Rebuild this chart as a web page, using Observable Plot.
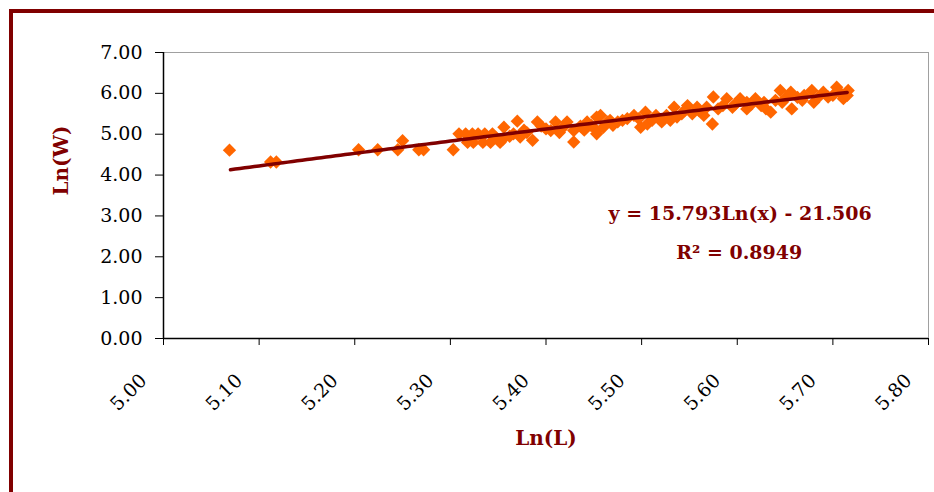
<!DOCTYPE html>
<html><head><meta charset="utf-8">
<script src="https://cdn.jsdelivr.net/npm/d3@7"></script>
<script src="https://cdn.jsdelivr.net/npm/@observablehq/plot@0.6"></script>
<style>
html,body{margin:0;padding:0;background:#fff;width:934px;height:492px;overflow:hidden}
#wrap{position:relative;width:934px;height:492px}
#chart{position:absolute;left:0;top:0}
#frame{position:absolute;left:9px;top:9px;width:1000px;height:600px;border:4px solid #800000;pointer-events:none}
</style></head>
<body><div id="wrap"><div id="chart"></div><div id="frame"></div></div>
<script>
const lnL = [5.069,5.112,5.118,5.204,5.224,5.245,5.250,5.267,5.272,5.303,
  5.309,5.316,5.323,5.329,5.336,5.344,5.324,5.334,5.342,5.352,
  5.356,5.355,5.370,5.366,5.373,5.386,5.391,5.380,5.400,5.410,
  5.414,5.422,5.429,5.429,5.436,5.443,5.453,5.457,5.453,5.453,
  5.460,5.464,5.467,5.475,5.485,5.492,5.499,5.504,5.506,5.511,
  5.521,5.526,5.534,5.537,5.542,5.548,5.553,5.558,5.565,5.574,
  5.575,5.580,5.589,5.595,5.603,5.610,5.610,5.619,5.625,5.630,
  5.635,5.640,5.645,5.647,5.656,5.657,5.663,5.670,5.678,5.680,
  5.690,5.695,5.704,5.711,5.715,5.716,
  5.318,5.347,5.362,5.377,5.395,5.405,5.418,5.440,5.447,5.470,
  5.480,5.497,5.515,5.530,5.545,5.560,5.568,5.585,5.598,5.615,
  5.628,5.650,5.668,5.685,5.700,5.707];
const lnW = [4.61,4.32,4.32,4.62,4.62,4.62,4.84,4.62,4.62,4.62,
  5.01,5.01,5.01,5.01,5.01,5.01,4.80,4.80,4.80,4.80,
  5.17,4.88,5.32,5.01,4.93,4.85,5.30,5.04,5.13,5.30,
  5.04,5.30,4.81,5.09,5.20,5.30,5.09,5.46,5.42,5.01,
  5.17,5.30,5.34,5.30,5.38,5.46,5.17,5.54,5.25,5.34,
  5.30,5.46,5.66,5.42,5.50,5.70,5.50,5.66,5.46,5.25,
  5.91,5.62,5.87,5.66,5.87,5.62,5.78,5.87,5.70,5.62,
  5.54,5.83,6.07,5.78,6.03,5.62,5.90,5.95,6.07,5.78,
  6.03,5.91,6.15,5.87,5.95,6.07,
  4.80,4.92,4.95,5.10,5.20,5.09,5.17,5.10,5.22,5.22,
  5.34,5.38,5.46,5.34,5.58,5.58,5.66,5.70,5.74,5.74,
  5.78,5.87,5.83,5.91,5.95,6.03];
const xTicks = [5.0,5.1,5.2,5.3,5.4,5.5,5.6,5.7,5.8];
const yTicks = [0,1,2,3,4,5,6,7];
const trendCoef = 15.793, trendIntercept = -21.506;
const trendStart = 5.07, trendEnd = 5.715;
const eqText = "y = 15.793Ln(x) - 21.506";
const r2Text = "R² = 0.8949";
const xLabel = "Ln(L)", yLabel = "Ln(W)";

const pts = lnL.map((x, i) => ({x, y: lnW[i]}));
const trendX = d3.range(trendStart, trendEnd + 1e-9, 0.005);
const trend = trendX.map(x => ({x, y: trendCoef * Math.log(x) + trendIntercept}));
const dark = "#800000";
const fmt = d3.format(".2f");

const chart = Plot.plot({
  width: 934, height: 492,
  marginLeft: 163, marginRight: 6, marginTop: 52, marginBottom: 154,
  style: {fontFamily: "'DejaVu Serif', serif", fontSize: "19px", background: "transparent", color: "#000"},
  x: {domain: [5, 5.8]},
  y: {domain: [0, 7]},
  marks: [
    Plot.frame({stroke: "#a0a0a0"}),
    Plot.axisY({ticks: yTicks, tickFormat: fmt, tickSize: 8, tickPadding: 13, label: null, stroke: "#000", strokeOpacity: 1}),
    Plot.axisX({ticks: xTicks, tickFormat: () => "", tickSize: 7, label: null, stroke: "#000", strokeOpacity: 1}),
    Plot.text(xTicks, {x: d => d, frameAnchor: "bottom", text: d => fmt(d), rotate: -45, textAnchor: "end", lineAnchor: "middle", dx: -20, dy: 39, fontSize: 19, fill: "#000"}),
    Plot.ruleX([5], {stroke: "#000", strokeWidth: 1.5}),
    Plot.ruleY([0], {stroke: "#000", strokeWidth: 1.5}),
    Plot.dot(pts, {x: "x", y: "y", symbol: "diamond2", r: 6, fill: "#ff6600", stroke: "none"}),
    Plot.line(trend, {x: "x", y: "y", stroke: dark, strokeWidth: 3.5}),
    Plot.text([eqText], {x: 5.603, y: 3.06, text: d => d, fill: dark, fontWeight: "bold", fontSize: 19}),
    Plot.text([r2Text], {x: 5.602, y: 2.10, text: d => d, fill: dark, fontWeight: "bold", fontSize: 19}),
    Plot.text([xLabel], {x: 5.4, frameAnchor: "bottom", dy: 106, text: d => d, fill: dark, fontWeight: "bold", fontSize: 20}),
    Plot.text([yLabel], {frameAnchor: "left", dx: -102, rotate: -90, text: d => d, fill: dark, fontWeight: "bold", fontSize: 20})
  ]
});
document.getElementById("chart").appendChild(chart);
</script>
</body></html>
